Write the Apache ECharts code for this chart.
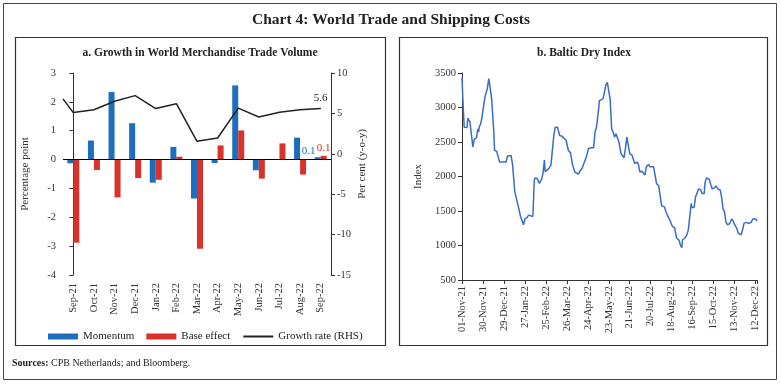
<!DOCTYPE html>
<html>
<head>
<meta charset="utf-8">
<script src="https://cdn.jsdelivr.net/npm/echarts@6/dist/echarts.min.js"></script>
<style>
html,body{margin:0;padding:0;background:#fff;}
#chart{width:781px;height:384px;}
</style>
</head>
<body>
<div id="chart"></div>
<script>
// ---------- Panel a: World merchandise trade volume ----------
const months = ['Sep-21','Oct-21','Nov-21','Dec-21','Jan-22','Feb-22','Mar-22','Apr-22','May-22','Jun-22','Jul-22','Aug-22','Sep-22'];
const momentum   = [-0.13, 0.66, 2.34, 1.26, -0.80, 0.44, -1.35, -0.12, 2.57, -0.37, 0.02, 0.76, 0.08];
const baseEffect = [-2.88, -0.36, -1.31, -0.64, -0.70, 0.10, -3.09, 0.49, 1.01, -0.66, 0.56, -0.52, 0.13];
const growthRate = [5.1, 5.45, 6.5, 7.2, 5.6, 6.2, 1.55, 1.95, 5.65, 4.55, 5.15, 5.45, 5.6];
const growthEdgeValue = 6.8; // value where the line meets the left axis
const leftTicks  = {min: -4, max: 3, interval: 1};
const rightTicks = {min: -15, max: 10, interval: 5};

// ---------- Panel b: Baltic Dry Index ----------
const bdiDates = ['2021-11-01','2021-11-02','2021-11-03','2021-11-04','2021-11-08','2021-11-09','2021-11-12','2021-11-14','2021-11-16','2021-11-18',
'2021-11-21','2021-11-23','2021-11-24','2021-11-25','2021-11-27','2021-11-29','2021-12-01','2021-12-03','2021-12-05','2021-12-06',
'2021-12-08','2021-12-10','2021-12-11','2021-12-12','2021-12-15','2021-12-16','2021-12-19','2021-12-21','2021-12-23','2022-01-01',
'2022-01-03','2022-01-08','2022-01-10','2022-01-13','2022-01-15','2022-01-18','2022-01-21','2022-01-23','2022-01-25','2022-01-27',
'2022-01-30','2022-02-01','2022-02-07','2022-02-09','2022-02-10','2022-02-13','2022-02-16','2022-02-19','2022-02-21','2022-02-23',
'2022-02-24','2022-02-26','2022-03-01','2022-03-04','2022-03-06','2022-03-08','2022-03-10','2022-03-13','2022-03-16','2022-03-19',
'2022-03-21','2022-03-25','2022-03-28','2022-03-31','2022-04-03','2022-04-06','2022-04-08','2022-04-11','2022-04-13','2022-04-16',
'2022-04-18','2022-04-22','2022-04-24','2022-04-25','2022-04-28','2022-05-02','2022-05-04','2022-05-06','2022-05-09','2022-05-10',
'2022-05-12','2022-05-15','2022-05-17','2022-05-19','2022-05-21','2022-05-23','2022-05-25','2022-05-27','2022-05-29','2022-05-31',
'2022-06-02','2022-06-04','2022-06-06','2022-06-09','2022-06-11','2022-06-13','2022-06-15','2022-06-17','2022-06-19','2022-06-21',
'2022-06-24','2022-06-26','2022-06-28','2022-07-01','2022-07-03','2022-07-05','2022-07-08','2022-07-10','2022-07-12','2022-07-14',
'2022-07-17','2022-07-19','2022-07-21','2022-07-24','2022-07-26','2022-07-28','2022-07-31','2022-08-02','2022-08-04','2022-08-08',
'2022-08-10','2022-08-12','2022-08-15','2022-08-17','2022-08-19','2022-08-22','2022-08-23','2022-08-25','2022-08-28','2022-08-30',
'2022-09-01','2022-09-02','2022-09-05','2022-09-08','2022-09-10','2022-09-11','2022-09-14','2022-09-15','2022-09-18','2022-09-20',
'2022-09-22','2022-09-24','2022-09-27','2022-09-29','2022-10-02','2022-10-03','2022-10-05','2022-10-09','2022-10-11','2022-10-13',
'2022-10-16','2022-10-18','2022-10-21','2022-10-24','2022-10-26','2022-10-28','2022-10-30','2022-11-01','2022-11-03','2022-11-06',
'2022-11-09','2022-11-11','2022-11-13','2022-11-16','2022-11-18','2022-11-20','2022-11-22','2022-11-24','2022-11-26','2022-11-29',
'2022-12-01','2022-12-03','2022-12-06','2022-12-08','2022-12-10','2022-12-12','2022-12-14'];
const bdiValues = [3437,3175,2935,2715,2710,2845,2790,2765,2430,2540,
2560,2690,2645,2725,2765,2885,3030,3165,3165,3270,
3420,3280,3260,3125,2645,2380,2365,2285,2210,2210,
2300,2300,2165,1780,1755,1560,1420,1395,1300,1385,
1405,1440,1420,1950,1980,1970,1900,1955,2045,2240,
2070,2045,2115,2165,2185,2595,2715,2715,2595,2585,
2560,2525,2380,2345,2165,2065,2045,2035,2075,2115,
2115,2285,2310,2405,2415,2415,2645,2715,2980,3100,
3125,3125,3220,3330,3365,3345,3110,2690,2645,2570,
2620,2620,2500,2330,2310,2270,2405,2570,2585,2330,
2310,2250,2185,2210,2175,2065,2075,2065,2020,2140,
2175,2140,2165,2140,2020,1900,1865,1730,1575,1560,
1490,1440,1380,1355,1275,1260,1200,1105,1080,1010,
970,1080,1105,1155,1225,1240,1610,1550,1550,1705,
1755,1820,1810,1755,1755,1900,1980,1960,1885,1820,
1835,1865,1820,1805,1705,1530,1490,1345,1300,1315,
1385,1355,1305,1250,1180,1180,1155,1225,1320,1335,
1345,1320,1335,1385,1395,1385,1355];
const bdiStart = '2021-11-01';
const bdiTickDays = 29;
const bdiYTicks = {min: 500, max: 3500, interval: 500};

// ---------- helpers ----------
const DAY = 86400000;
const t0 = Date.parse(bdiStart + 'T00:00:00Z');
const dayOf = s => Math.round((Date.parse(s + 'T00:00:00Z') - t0) / DAY);
const MON = ['Jan','Feb','Mar','Apr','May','Jun','Jul','Aug','Sep','Oct','Nov','Dec'];
function fmtDay(d) {
  const dt = new Date(t0 + d * DAY);
  const dd = String(dt.getUTCDate()).padStart(2, '0');
  return dd + '-' + MON[dt.getUTCMonth()] + '-' + String(dt.getUTCFullYear()).slice(2);
}
const bdiData = bdiDates.map((s, i) => [dayOf(s), bdiValues[i]]);
const bdiMax = bdiData[bdiData.length - 1][0];

const FONT = 'Liberation Serif';
const BLUE = '#1b6fbd';
const RED = '#d8322a';
const last = months.length - 1;

const growthData = [[-0.5, growthEdgeValue]].concat(growthRate.map((v, i) => [i, v]));

const chart = echarts.init(document.getElementById('chart'));
chart.setOption({
  animation: false,
  textStyle: {fontFamily: FONT},
  grid: [
    {left: 63, top: 73, width: 268, height: 202},
    {left: 462, top: 73, width: 295, height: 207}
  ],
  legend: {
    left: 43, top: 326, itemWidth: 30, itemHeight: 6, itemGap: 12,
    textStyle: {fontFamily: FONT, fontSize: 11, color: '#222'},
    data: [{name: 'Momentum', icon: 'rect'}, {name: 'Base effect', icon: 'rect'},
           {name: 'Growth rate (RHS)', itemStyle: {opacity: 0}}]
  },
  xAxis: [
    {
      type: 'category', gridIndex: 0, data: months,
      axisLine: {show: false, onZero: false}, axisTick: {show: false},
      axisLabel: {rotate: 90, margin: 8, fontSize: 10.5, color: '#333', fontFamily: FONT}
    },
    {type: 'value', gridIndex: 0, min: -0.5, max: months.length - 0.5, show: false},
    {
      type: 'value', gridIndex: 1, min: 0, max: bdiMax, interval: bdiTickDays,
      splitLine: {show: false},
      axisLine: {show: true, onZero: false, lineStyle: {color: '#333'}},
      axisTick: {show: true, length: 4, lineStyle: {color: '#333'}},
      axisLabel: {
        rotate: 90, margin: 6, fontSize: 10.5, color: '#333', fontFamily: FONT,
        formatter: v => (v % bdiTickDays === 0 ? fmtDay(v) : '')
      }
    }
  ],
  yAxis: [
    {
      type: 'value', gridIndex: 0, min: leftTicks.min, max: leftTicks.max, interval: leftTicks.interval,
      name: 'Percentage point', nameLocation: 'middle', nameGap: 32, nameRotate: 90,
      nameTextStyle: {fontSize: 11, color: '#333', fontFamily: FONT},
      splitLine: {show: false},
      axisLine: {show: true, lineStyle: {color: '#333'}},
      axisTick: {show: true, length: 4, lineStyle: {color: '#333'}},
      axisLabel: {fontSize: 10.5, color: '#333', margin: 7, fontFamily: FONT, formatter: v => String(v)}
    },
    {
      type: 'value', gridIndex: 0, position: 'right', min: rightTicks.min, max: rightTicks.max, interval: rightTicks.interval,
      name: 'Per cent (y-o-y)', nameLocation: 'middle', nameGap: 26, nameRotate: 90,
      nameTextStyle: {fontSize: 11, color: '#333', fontFamily: FONT, padding: [0, 0, 0, 20]},
      splitLine: {show: false},
      axisLine: {show: true, lineStyle: {color: '#333'}},
      axisTick: {show: true, length: 4, lineStyle: {color: '#333'}},
      axisLabel: {fontSize: 10.5, color: '#333', margin: 6, fontFamily: FONT, formatter: v => String(v)}
    },
    {
      type: 'value', gridIndex: 1, min: bdiYTicks.min, max: bdiYTicks.max, interval: bdiYTicks.interval,
      name: 'Index', nameLocation: 'middle', nameGap: 38, nameRotate: 90,
      nameTextStyle: {fontSize: 11, color: '#333', fontFamily: FONT},
      splitLine: {show: false},
      axisLine: {show: true, lineStyle: {color: '#333'}},
      axisTick: {show: true, length: 4, lineStyle: {color: '#333'}},
      axisLabel: {fontSize: 10.5, color: '#333', margin: 6, fontFamily: FONT, formatter: v => String(v)}
    }
  ],
  series: [
    {
      name: 'Momentum', type: 'bar', xAxisIndex: 0, yAxisIndex: 0,
      barWidth: 6, barGap: '0%',
      itemStyle: {color: BLUE},
      data: momentum.map((v, i) => i === last ? {
        value: v,
        label: {show: true, position: 'top', offset: [-9, 4], color: BLUE, fontSize: 11, fontFamily: FONT,
                formatter: p => p.value.toFixed(1)}
      } : v),
      markLine: {
        silent: true, symbol: 'none', label: {show: false},
        lineStyle: {color: '#000', width: 1, type: 'solid'},
        data: [{yAxis: 0}]
      }
    },
    {
      name: 'Base effect', type: 'bar', xAxisIndex: 0, yAxisIndex: 0,
      barWidth: 6, barGap: '0%',
      itemStyle: {color: RED},
      data: baseEffect.map((v, i) => i === last ? {
        value: v,
        label: {show: true, position: 'top', distance: 2, color: RED, fontSize: 11, fontFamily: FONT,
                formatter: p => p.value.toFixed(1)}
      } : v)
    },
    {
      name: 'Growth rate (RHS)', type: 'line', xAxisIndex: 1, yAxisIndex: 1,
      symbol: 'none', lineStyle: {color: '#222', width: 1.5}, itemStyle: {color: '#222'},
      data: growthData.map((p, i) => i === growthData.length - 1 ? {
        value: p, symbol: 'circle', symbolSize: 1,
        label: {show: true, position: 'top', distance: 4, color: '#222', fontSize: 11, fontFamily: FONT,
                formatter: q => q.value[1].toFixed(1)}
      } : p)
    },
    {
      name: 'BDI', type: 'line', xAxisIndex: 2, yAxisIndex: 2,
      symbol: 'none', lineStyle: {color: '#3b6cc4', width: 1.5},
      data: bdiData
    }
  ],
  graphic: [
    {type: 'rect', shape: {x: 3.5, y: 3.5, width: 773, height: 376}, style: {fill: 'none', stroke: '#444', lineWidth: 1}, silent: true},
    {type: 'rect', shape: {x: 15.5, y: 37.5, width: 370, height: 308}, style: {fill: 'none', stroke: '#333', lineWidth: 1.2}, silent: true},
    {type: 'rect', shape: {x: 399.5, y: 37.5, width: 368, height: 308}, style: {fill: 'none', stroke: '#333', lineWidth: 1.2}, silent: true},
    {type: 'text', style: {text: 'Chart 4: World Trade and Shipping Costs', x: 391, y: 20, textAlign: 'center', textVerticalAlign: 'middle',
      font: 'bold 15.5px "Liberation Serif"', fill: '#222'}},
    {type: 'text', style: {text: 'a. Growth in World Merchandise Trade Volume', x: 200, y: 53, textAlign: 'center', textVerticalAlign: 'middle',
      font: 'bold 11.5px "Liberation Serif"', fill: '#222'}},
    {type: 'text', style: {text: 'b. Baltic Dry Index', x: 584, y: 53, textAlign: 'center', textVerticalAlign: 'middle',
      font: 'bold 11.5px "Liberation Serif"', fill: '#222'}},
    {type: 'text', style: {text: '{b|Sources:} CPB Netherlands; and Bloomberg.', x: 12, y: 363, textVerticalAlign: 'middle',
      fontFamily: FONT, fontSize: 10, fill: '#222',
      rich: {b: {fontWeight: 'bold', fontFamily: FONT, fontSize: 10, fill: '#222'}}}}
  ]
});
</script>
</body>
</html>
